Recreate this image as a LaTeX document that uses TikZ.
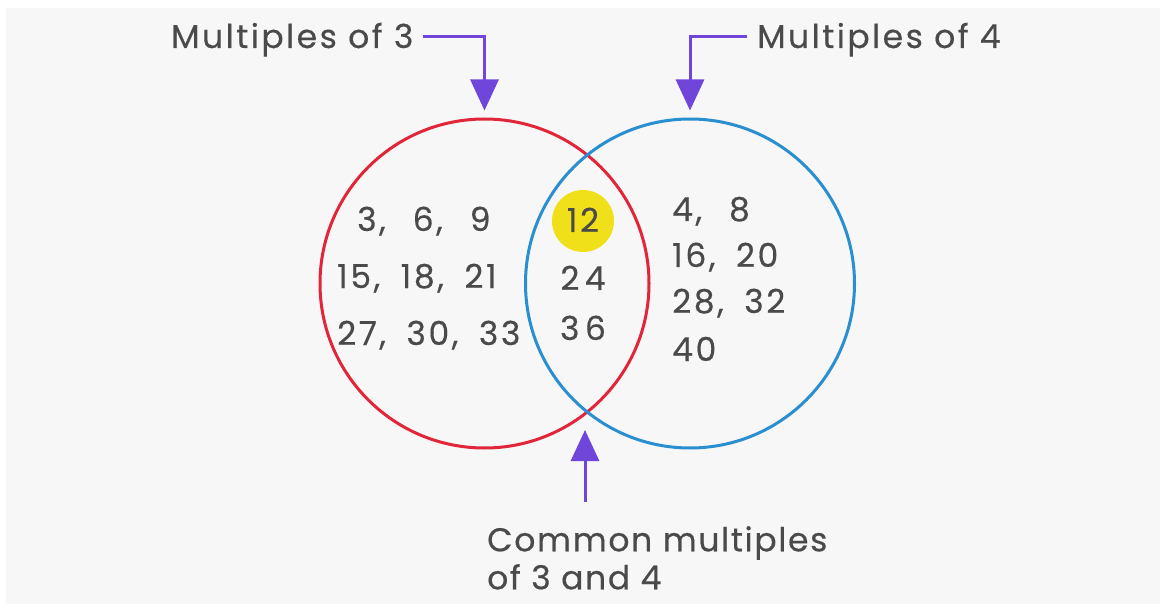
\documentclass[tikz,border=0pt]{standalone}
\usepackage{fontspec}
\setmainfont{Poppins}
\newfontfamily\lblfont[LetterSpace=7.5, FakeBold=0.4]{Poppins}
\newfontfamily\lblfontb[LetterSpace=5, FakeBold=0.4]{Poppins}
\newfontfamily\numfont[Numbers=Monospaced, LetterSpace=8, FakeBold=0.4]{Poppins}
\newcommand{\gp}{,\kern9pt\ }
\newcommand{\wgp}{,\kern4pt\ \ }
\usetikzlibrary{arrows.meta}
\definecolor{bgray}{HTML}{F7F7F7}
\definecolor{txt}{HTML}{4A4A4A}
\definecolor{vred}{HTML}{E2263A}
\definecolor{vblue}{HTML}{2A8FD0}
\definecolor{arr}{HTML}{7046DA}
\definecolor{hyel}{HTML}{F0E01A}
\tikzset{
  setcircle/.style={circle, draw, line width=3pt, minimum size=329pt, inner sep=0pt},
  label/.style={font=\lblfont\fontsize{33}{38}\selectfont, text=txt, inner sep=0pt},
  labelb/.style={font=\lblfontb\fontsize{33}{38}\selectfont, text=txt, inner sep=0pt},
  num/.style={font=\numfont\fontsize{33}{38}\selectfont, text=txt, inner sep=0pt, anchor=base west},
  numc/.style={font=\numfont\fontsize{33}{38}\selectfont, text=txt, inner sep=0pt, anchor=base},
  pointer/.style={draw=arr, line width=3pt, -{Triangle[width=28pt,length=31pt]}},
}
\begin{document}
\begin{tikzpicture}[x=1pt,y=-1pt]
\useasboundingbox (0,0) rectangle (1160,604);
\fill[white] (0,0) rectangle (1160,604);
\fill[bgray] (6,8) rectangle (1160,604);
% sets
\node[setcircle, draw=vred] (A) at (484.5,283.5) {};
\node[setcircle, draw=vblue] (B) at (690,283.5) {};
\coordinate (I) at (585,418);
% highlight
\node[circle, fill=hyel, minimum size=62pt, inner sep=0pt] (hl) at (583,221) {};
% left numbers
\node[num] (l1) at (357,231) {3\wgp 6\wgp 9};
\node[num] (l2) at (337,288) {15\gp 18\gp 21};
\node[num] (l3) at (337,345) {27\gp 30\gp 33};
% middle numbers
\node[numc] (m1) at (583,232) {12};
\node[numc] (m2) at (583,290) {2\,4};
\node[numc] (m3) at (583,340) {3\,6};
% right numbers
\node[num] (r1) at (672,221) {4\wgp 8};
\node[num] (r2) at (672,267) {16\gp 20};
\node[num] (r3) at (672,313) {28\gp 32};
\node[num] (r4) at (672,361) {40};
% labels
\node[label, anchor=base west] (t3) at (171,48) {Multiples of 3};
\node[label, anchor=base west] (t4) at (757,48) {Multiples of 4};
\node[labelb, anchor=north west, align=left] (tc) at (487,526) {Common multiples\\of 3 and 4};
% pointers
\draw[pointer, shorten <=9pt, shorten >=7pt] ([yshift=3pt]t3.east) -| (A.north);
\draw[pointer, shorten <=10pt, shorten >=7pt] ([yshift=3pt]t4.west) -| (B.north);
\draw[pointer, shorten <=24pt, shorten >=12pt] (tc.north -| I) -- (I);
\end{tikzpicture}
\end{document}
